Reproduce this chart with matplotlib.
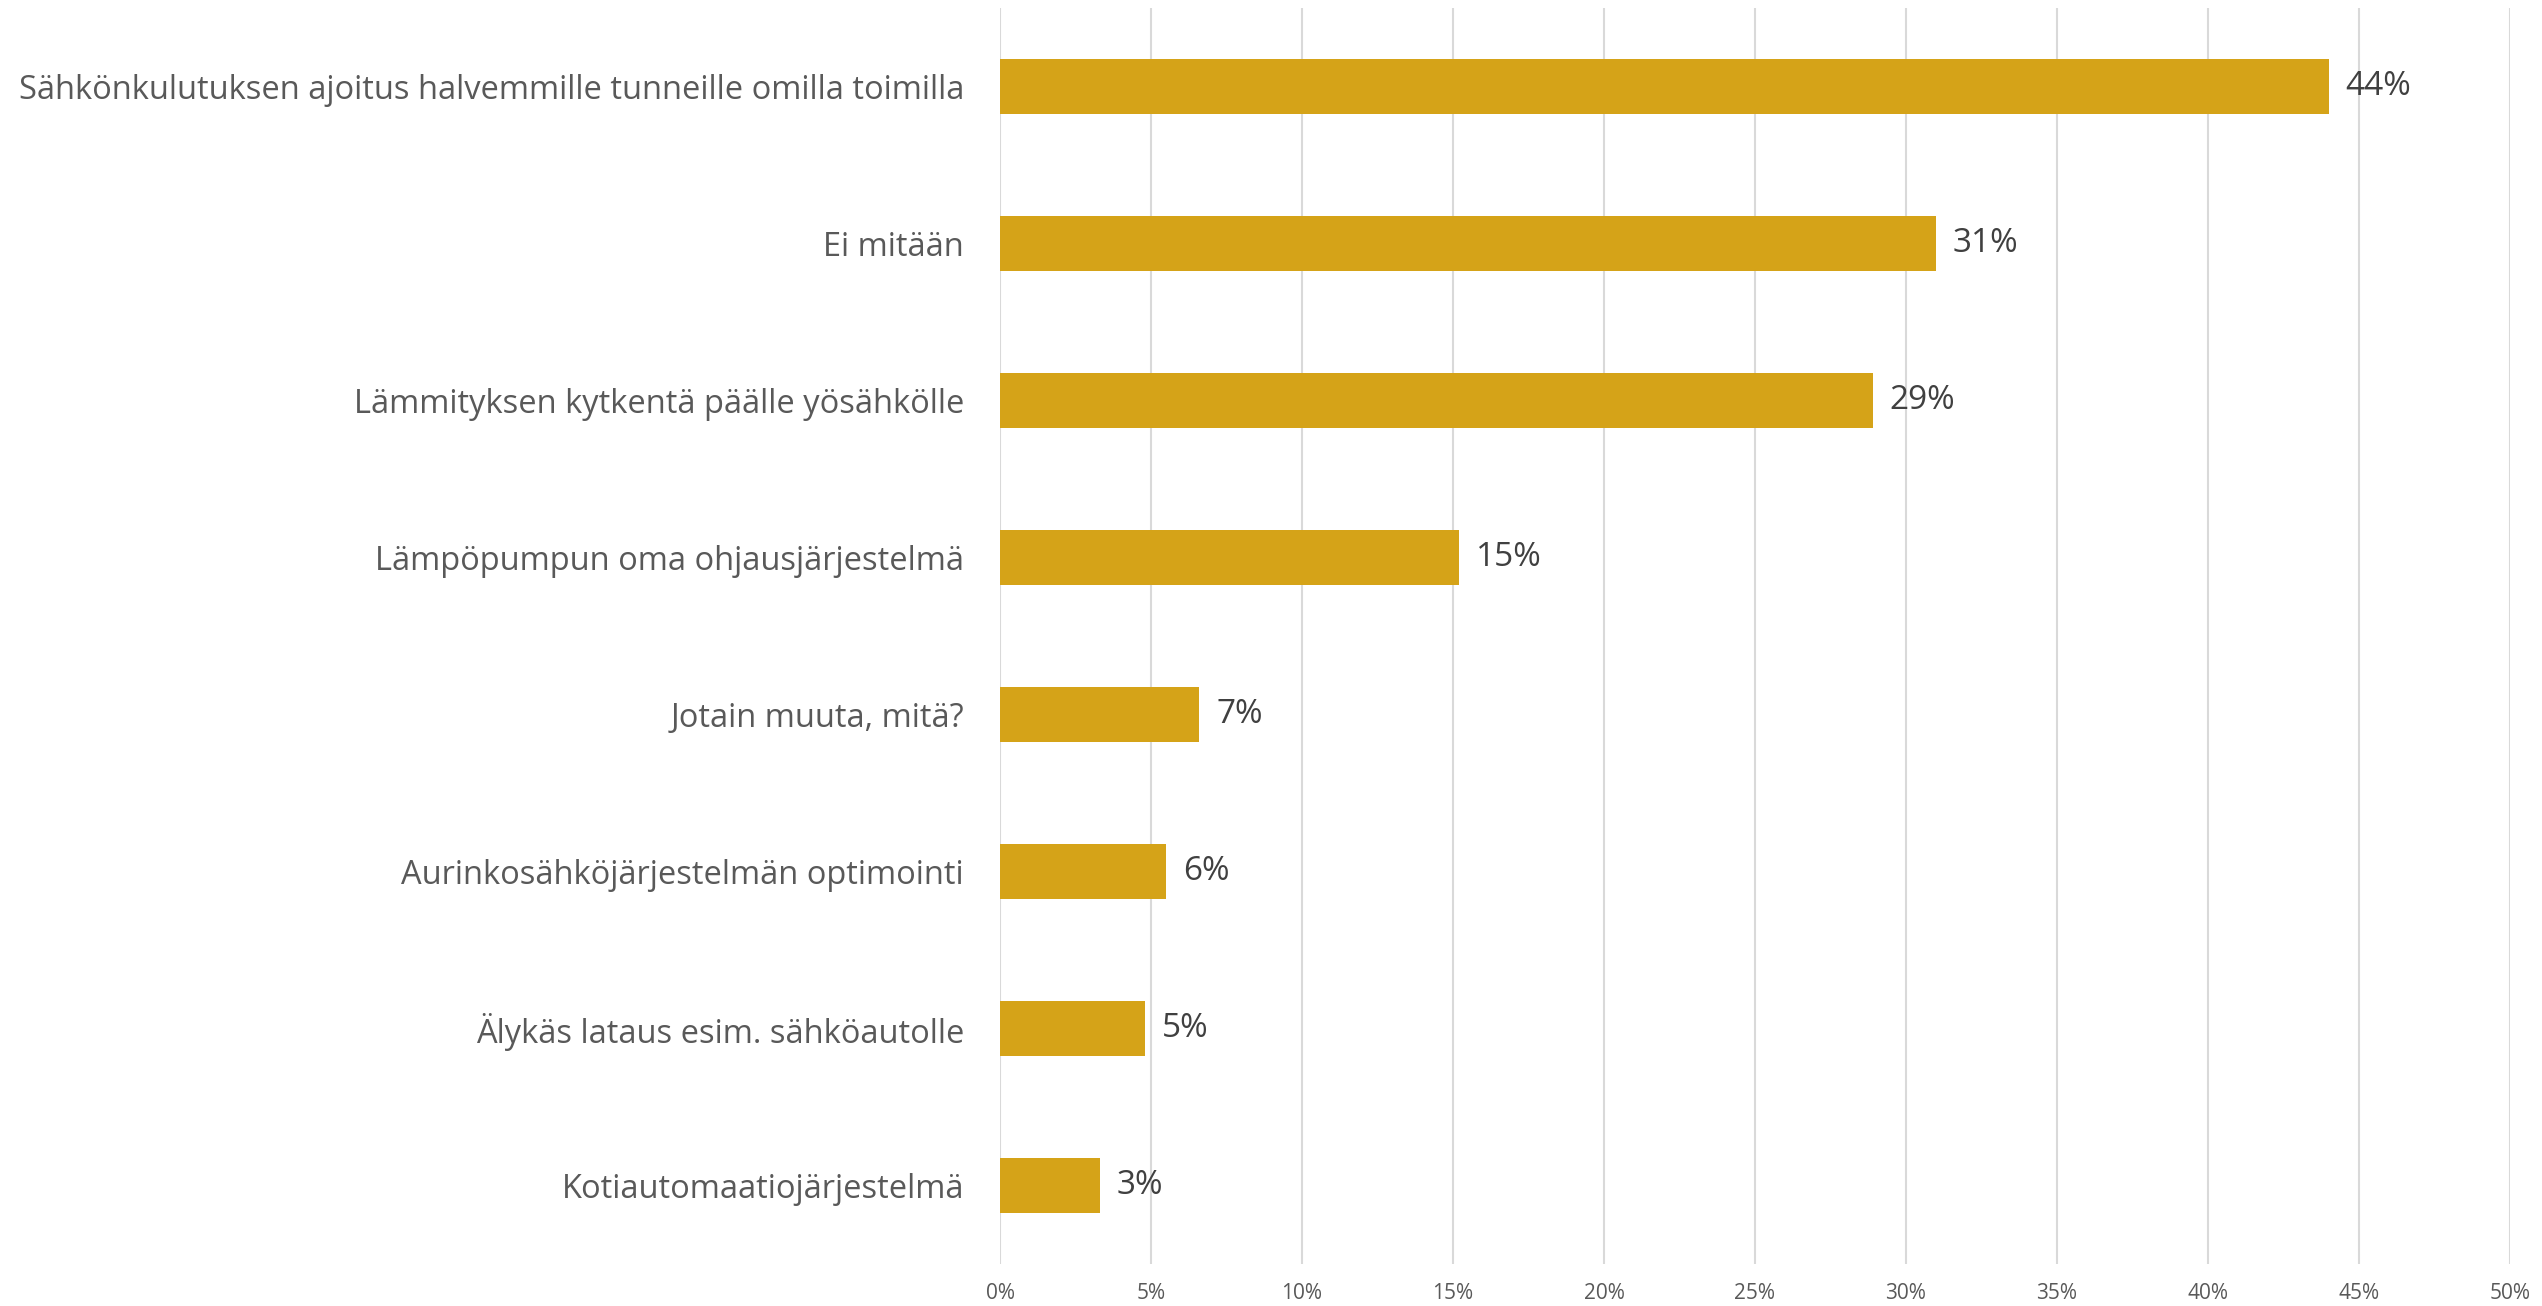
import matplotlib.pyplot as plt
from matplotlib.ticker import MultipleLocator, FuncFormatter

categories = [
    'Sähkönkulutuksen ajoitus halvemmille tunneille omilla toimilla',
    'Ei mitään',
    'Lämmityksen kytkentä päälle yösähkölle',
    'Lämpöpumpun oma ohjausjärjestelmä',
    'Jotain muuta, mitä?',
    'Aurinkosähköjärjestelmän optimointi',
    'Älykäs lataus esim. sähköautolle',
    'Kotiautomaatiojärjestelmä',
]
values = [44.0, 31.0, 28.9, 15.2, 6.6, 5.5, 4.8, 3.3]

plt.rcParams['font.family'] = ['Open Sans', 'DejaVu Sans']

fig = plt.figure(figsize=(25.42, 13.06), dpi=100)
ax = fig.add_axes([0.3934, 0.0322, 0.594, 0.9617])

pos = list(range(len(categories)))
ax.barh(pos, values, height=0.35, color='#D5A318', zorder=3)

for p, v in zip(pos, values):
    ax.annotate('%d%%' % round(v), (v, p), xytext=(12, 0), textcoords='offset points',
                va='center', ha='left', fontsize=24, color='#404040')

ax.set_ylim(len(categories) - 0.5, -0.5)
ax.set_xlim(0, 50)
ax.set_yticks(pos)
ax.set_yticklabels(categories, fontsize=23.5, color='#595959')
ax.xaxis.set_major_locator(MultipleLocator(5))
ax.xaxis.set_major_formatter(FuncFormatter(lambda x, _: '%d%%' % x))
ax.tick_params(axis='x', labelsize=15, colors='#595959', length=0, pad=14)
ax.tick_params(axis='y', length=0, pad=26)
ax.grid(axis='x', color='#D9D9D9', linewidth=1.5, zorder=0)
for s in ax.spines.values():
    s.set_visible(False)

fig.savefig('out.png', dpi=100)
